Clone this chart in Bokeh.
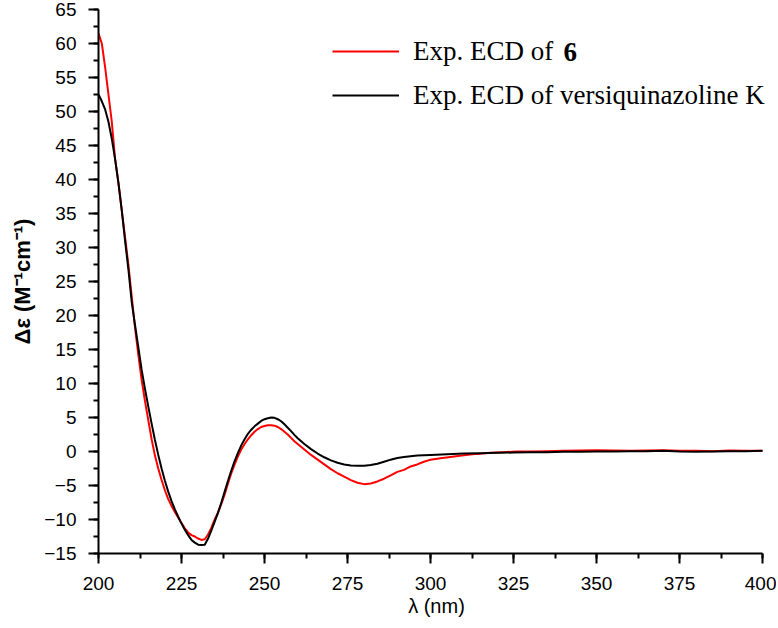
from bokeh.plotting import figure
from bokeh.models import (Range1d, SingleIntervalTicker, Legend, LegendItem, Label)
from bokeh.embed import file_html
from bokeh.resources import INLINE

# wavelength (nm) and Δε values
red_nm = [200, 201, 202, 203, 204, 205, 206, 207, 208, 209, 210, 211, 212, 213, 214, 215,
          216, 217, 218, 219, 220, 221, 222, 223, 224, 225, 226, 227, 228, 229, 230, 231,
          232, 233, 234, 235, 236, 237, 238, 239, 240, 241, 242, 243, 244, 245, 246, 247,
          248, 249, 250, 251, 252, 253, 254, 255, 256, 257, 258, 259, 260, 262, 264, 266,
          268, 270, 272, 274, 276, 278, 280, 282, 284, 286, 288, 290, 292, 294, 296, 298,
          300, 303, 306, 310, 314, 318, 322, 326, 330, 335, 340, 345, 350, 355, 360, 365,
          370, 375, 380, 385, 390, 395, 400]
red_de = [61.5, 60.0, 56.5, 52.5, 48.5, 43.0, 39.5, 35.5, 31.5, 27.5, 22.8, 18.2, 14.2, 10.5, 7.4, 4.6,
          1.8, -0.6, -2.5, -4.2, -5.7, -7.0, -8.0, -8.9, -9.7, -10.5, -11.3, -11.9, -12.3, -12.5, -12.8, -13.0,
          -12.9, -12.2, -11.2, -10.0, -9.0, -7.7, -6.3, -4.7, -3.2, -1.9, -0.7, 0.3, 1.1, 1.8, 2.4, 2.9,
          3.3, 3.6, 3.75, 3.85, 3.85, 3.8, 3.6, 3.3, 2.9, 2.5, 2.0, 1.5, 1.1, 0.3, -0.5, -1.2,
          -1.9, -2.6, -3.2, -3.7, -4.2, -4.6, -4.8, -4.7, -4.4, -4.0, -3.5, -3.0, -2.7, -2.2, -1.9, -1.5,
          -1.2, -1.0, -0.8, -0.55, -0.35, -0.2, -0.1, 0.0, 0.0, 0.05, 0.1, 0.15, 0.2, 0.15, 0.1, 0.15,
          0.2, 0.1, 0.1, 0.05, 0.15, 0.1, 0.1]

blk_nm = [200, 201, 202, 203, 204, 205, 206, 207, 208, 209, 210, 211, 212, 213, 214, 215,
          216, 217, 218, 219, 220, 221, 222, 223, 224, 225, 226, 227, 228, 229, 230, 231,
          232, 233, 234, 235, 236, 237, 238, 239, 240, 241, 242, 243, 244, 245, 246, 247,
          248, 249, 250, 251, 252, 253, 254, 255, 256, 257, 258, 259, 260, 262, 264, 266,
          268, 270, 272, 274, 276, 278, 280, 282, 284, 286, 288, 290, 292, 294, 296, 298,
          300, 305, 310, 315, 320, 325, 330, 335, 340, 345, 350, 355, 360, 365, 370, 375,
          380, 385, 390, 395, 400]
blk_de = [52.5, 51.5, 50.3, 48.5, 46.0, 43.0, 39.5, 35.5, 31.0, 26.8, 22.0, 18.6, 15.3, 12.0, 9.2, 6.6,
          4.1, 1.7, -0.5, -2.5, -4.3, -5.9, -7.3, -8.5, -9.6, -10.6, -11.5, -12.3, -13.0, -13.4, -13.7, -13.75,
          -13.7, -12.8, -11.6, -10.3, -9.0, -7.5, -5.9, -4.3, -2.8, -1.4, -0.2, 0.9, 1.8, 2.6, 3.2, 3.7,
          4.1, 4.5, 4.75, 4.9, 5.0, 4.95, 4.75, 4.45, 4.0, 3.5, 3.0, 2.45, 1.95, 1.1, 0.35, -0.3,
          -0.85, -1.3, -1.65, -1.9, -2.05, -2.1, -2.1, -2.0, -1.8, -1.5, -1.2, -0.95, -0.8, -0.7, -0.6, -0.55,
          -0.5, -0.4, -0.3, -0.25, -0.2, -0.15, -0.1, -0.1, -0.05, -0.05, 0.0, 0.0, 0.05, 0.05, 0.1, 0.0,
          -0.05, 0.0, 0.05, 0.05, 0.1]

legend_labels = ["Exp. ECD of", "Exp. ECD of versiquinazoline K"]
legend_bold = "6"

p = figure(width=776, height=626, output_backend="svg", toolbar_location=None,
           x_range=Range1d(200, 403.6), y_range=Range1d(-15, 65),
           min_border_left=98, min_border_right=2, min_border_top=9, min_border_bottom=73)
p.outline_line_color = None
p.xgrid.visible = False
p.ygrid.visible = False
p.background_fill_color = "white"

r_red = p.line(red_nm, red_de, line_color="#ff0000", line_width=2)
r_blk = p.line(blk_nm, blk_de, line_color="#000000", line_width=2)

p.xaxis.ticker = SingleIntervalTicker(interval=25, num_minor_ticks=2)
p.yaxis.ticker = SingleIntervalTicker(interval=5, num_minor_ticks=2)
p.xaxis.bounds = (200, 400)

for ax in (p.xaxis, p.yaxis):
    ax.axis_line_width = 2
    ax.axis_line_color = "black"
    ax.major_tick_line_width = 2
    ax.minor_tick_line_width = 2
    ax.major_tick_in = 0
    ax.major_tick_out = 10
    ax.minor_tick_in = 0
    ax.minor_tick_out = 5
    ax.major_label_text_font = "Liberation Sans"
    ax.major_label_text_font_size = "19px"
    ax.major_label_text_color = "black"
    ax.axis_label_text_font = "Liberation Sans"
    ax.axis_label_text_color = "black"
    ax.axis_label_text_font_style = "normal"

p.xaxis.major_label_standoff = 13
p.yaxis.major_label_standoff = 12
p.xaxis.axis_label = "λ (nm)"
p.xaxis.axis_label_text_font_size = "20px"
p.xaxis.axis_label_standoff = 2
p.yaxis.axis_label = "Δε (M⁻¹cm⁻¹)"
p.yaxis.axis_label_text_font_size = "22px"
p.yaxis.axis_label_text_font_style = "bold"
p.yaxis.axis_label_standoff = 6

legend = Legend(items=[LegendItem(label=legend_labels[0], renderers=[r_red]),
                       LegendItem(label=legend_labels[1], renderers=[r_blk])],
                location=(234, 436), glyph_width=67, glyph_height=44, label_height=44,
                label_standoff=14, spacing=0, padding=0, margin=0,
                border_line_color=None, background_fill_alpha=0,
                label_text_font="Liberation Serif", label_text_font_size="27px",
                label_text_color="black")
p.add_layout(legend)

p.add_layout(Label(x=465, y=502, x_units="screen", y_units="screen", text=legend_bold,
                   text_font="Liberation Serif", text_font_size="27px",
                   text_font_style="bold", text_baseline="middle", text_color="black"))

open("out.html", "w").write(file_html(p, INLINE))
